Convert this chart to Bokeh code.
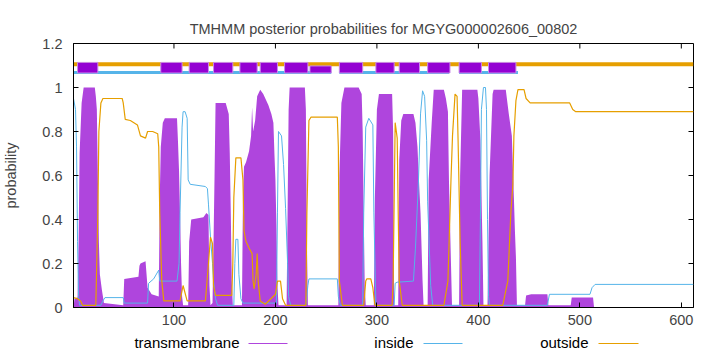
from bokeh.plotting import figure
from bokeh.models import Range1d, FixedTicker, NumeralTickFormatter
from bokeh.layouts import column
from bokeh.embed import file_html
from bokeh.resources import INLINE
from bokeh.core.properties import value

FONT = "Liberation Sans"
SEQ_LEN = 612
TITLE = "TMHMM posterior probabilities for MGYG000002606_00802"

# transmembrane posterior (residue, probability)
tm_pos = [1, 2, 5, 6, 7, 9, 11, 22, 23, 24, 25, 26, 27, 29, 31, 50, 51, 65, 66, 67, 72, 74, 78, 85,
          86, 87, 89, 91, 103, 104, 105, 106, 107, 108, 109, 114, 115, 117, 129, 132, 134, 135, 136,
          138, 139, 140, 141, 151, 154, 155, 156, 157, 158, 167, 168, 169, 171, 174, 176, 177, 178,
          180, 182, 185, 188, 193, 196, 198, 199, 200, 201, 202, 203, 211, 212, 213, 214, 229, 230,
          231, 232, 262, 263, 265, 268, 282, 285, 286, 287, 288, 289, 297, 298, 300, 302, 315, 316,
          317, 321, 322, 324, 326, 336, 338, 340, 341, 343, 345, 346, 350, 351, 354, 356, 366, 368,
          370, 371, 373, 374, 381, 382, 384, 399, 400, 402, 404, 405, 409, 411, 414, 415, 427, 430,
          433, 435, 436, 437, 438, 446, 447, 452, 468, 469, 491, 492, 513, 514, 612]
tm_prob = [0.0, 0.04, 0.045, 0.3, 0.70, 0.93, 1.0, 1.0, 0.96, 0.9, 0.6, 0.3, 0.15, 0.08, 0.02, 0.01,
           0.13, 0.14, 0.19, 0.20, 0.21, 0.09, 0.06, 0.05,
           0.5, 0.73, 0.84, 0.86, 0.86, 0.75, 0.62, 0.43, 0.2, 0.05, 0.01, 0.01, 0.3, 0.40, 0.41, 0.43,
           0.42, 0.1, 0.01,
           0.02, 0.3, 0.6, 0.93, 0.93, 0.88, 0.7, 0.43, 0.12, 0.01, 0.01, 0.5, 0.64, 0.66, 0.71, 0.78,
           0.91, 0.80,
           0.85, 0.96, 0.99, 0.97, 0.92, 0.88, 0.84, 0.7, 0.58, 0.37, 0.1, 0.01, 0.01, 0.45, 0.9, 1.0,
           1.0, 0.9,
           0.3, 0.01, 0.01, 0.6, 0.93, 1.0, 1.0, 0.97, 0.8, 0.43, 0.1, 0.01, 0.01, 0.5, 0.9, 0.97, 0.97,
           0.8,
           0.01, 0.01, 0.67, 0.85, 0.88, 0.88, 0.84, 0.73, 0.62, 0.43, 0.12, 0.01, 0.01, 0.58, 0.84,
           0.99, 0.99, 0.95,
           0.89, 0.58, 0.2, 0.01, 0.01, 0.6, 0.99, 0.99, 0.95, 0.76, 0.3, 0.01, 0.01, 0.6, 0.97, 0.99,
           0.99, 0.88,
           0.78, 0.5, 0.35, 0.23, 0.01, 0.01, 0.055, 0.06, 0.06, 0.01, 0.01, 0.045, 0.045, 0.0, 0.0]

# inside posterior
in_pos = [1, 3, 4, 5, 6, 7, 28, 30, 32, 50, 51, 74, 75, 80, 85, 86, 87, 103, 105, 106, 108, 109,
          111, 113, 114, 116, 131, 133, 134, 136, 138, 139, 141, 143, 159, 160, 161, 163, 164, 166,
          168, 201, 202, 203, 206, 208, 210, 212, 213, 215, 230, 232, 233, 261, 262, 264, 286, 287,
          289, 292, 296, 297, 299, 317, 318, 320, 336, 338, 341, 343, 345, 347, 349, 350, 353, 355,
          401, 402, 403, 405, 407, 408, 409, 410, 411, 468, 470, 510, 512, 515, 612]
in_prob = [0.95, 0.9, 0.73, 0.3, 0.05, 0.01, 0.01, 0.03, 0.045, 0.045, 0.02, 0.02, 0.11, 0.13, 0.17,
           0.12, 0.12, 0.12, 0.2, 0.43, 0.82, 0.89,
           0.89, 0.86, 0.58, 0.56, 0.55, 0.54, 0.47, 0.32, 0.2, 0.12, 0.04, 0.01, 0.01, 0.2, 0.31,
           0.31, 0.15, 0.04,
           0.02, 0.02, 0.43, 0.80, 0.78, 0.65, 0.45, 0.2, 0.05, 0.01, 0.01, 0.1, 0.13, 0.13, 0.05,
           0.01, 0.01, 0.43,
           0.82, 0.86, 0.83, 0.43, 0.01, 0.01, 0.11, 0.115, 0.12, 0.27, 0.58, 0.88, 0.985, 0.96,
           0.76, 0.48, 0.1, 0.01,
           0.01, 0.4, 0.9, 1.0, 1.0, 0.9, 0.4, 0.05, 0.01, 0.01, 0.06, 0.06, 0.09, 0.105, 0.105]

# outside posterior
out_pos = [1, 5, 8, 10, 23, 25, 26, 28, 30, 49, 50, 52, 57, 64, 67, 72, 74, 79, 84, 85, 86, 88, 90,
           106, 109, 113, 131, 134, 136, 138, 139, 141, 157, 158, 159, 161, 166, 168, 169, 171, 174,
           177, 178, 179, 181, 182, 183, 185, 190, 200, 202, 205, 207, 210, 230, 231, 233, 235, 261,
           262, 263, 266, 287, 289, 290, 294, 296, 298, 315, 316, 318, 320, 321, 322, 325, 366, 370,
           373, 374.5, 377, 379, 380, 382, 384, 424, 429, 432, 434, 435, 437, 439, 445, 447, 451,
           490, 493, 496, 612]
out_prob = [0.045, 0.04, 0.03, 0.01, 0.01, 0.43, 0.80, 0.93, 0.95, 0.95, 0.93, 0.855, 0.85, 0.83,
            0.78, 0.77, 0.80, 0.80, 0.79, 0.73, 0.43, 0.12, 0.03,
            0.03, 0.10, 0.03, 0.03, 0.2, 0.32, 0.29, 0.1, 0.055, 0.055, 0.2, 0.5, 0.68, 0.68, 0.58,
            0.35, 0.30, 0.27,
            0.245, 0.12, 0.085, 0.15, 0.245, 0.12, 0.03, 0.015, 0.06, 0.12, 0.12, 0.04, 0.01, 0.01,
            0.43, 0.85, 0.865, 0.865,
            0.73, 0.12, 0.01, 0.01, 0.12, 0.13, 0.13, 0.09, 0.01, 0.01, 0.12, 0.84, 0.77, 0.43, 0.12,
            0.01, 0.01, 0.12,
            0.58, 0.78, 0.97, 0.96, 0.76, 0.3, 0.01, 0.01, 0.12, 0.43, 0.56, 0.78, 0.94, 0.99, 0.99,
            0.95, 0.93,
            0.93, 0.90, 0.89, 0.89]

# predicted topology track
helix_start = [5, 87, 115, 139, 165, 185, 209, 234, 263, 299, 322, 350, 381, 410]
helix_end = [25, 108, 134, 158, 182, 202, 232, 255, 286, 317, 342, 372, 403, 437]
helix_top = [1.114, 1.114, 1.114, 1.114, 1.114, 1.114, 1.114, 1.098, 1.114, 1.114, 1.114, 1.114,
             1.114, 1.114]
inside_start = [1, 263, 381]
inside_end = [255, 371, 439]
outside_start = [1]
outside_end = [SEQ_LEN]

x_ticks = [100, 200, 300, 400, 500, 600]
y_ticks = [0, 0.2, 0.4, 0.6, 0.8, 1, 1.2]

legend_labels = ["transmembrane", "inside", "outside"]
C_TM = "#AF45DD"
C_HELIX = "#9400D3"
C_IN = "#56B4E9"
C_OUT = "#E69F00"
FS = "14.5px"

X0, X1, Y0, Y1 = 1, SEQ_LEN, 0, 1.2
FRAME_W, FRAME_H = 620, 264

p = figure(width=720, height=328, x_range=Range1d(X0, X1), y_range=Range1d(Y0, Y1),
           output_backend="svg", toolbar_location=None,
           min_border_left=73, min_border_right=27, min_border_top=43, min_border_bottom=21)
p.title.text = TITLE
p.title.align = "center"
p.title.text_font = FONT
p.title.text_font_size = FS
p.title.text_font_style = "normal"
p.title.standoff = 13
p.xgrid.visible = False
p.ygrid.visible = False
p.outline_line_color = "black"
p.outline_line_width = 1

for ax in p.xaxis:
    ax.ticker = FixedTicker(ticks=x_ticks)
    ax.major_label_standoff = 7
for ax in p.yaxis:
    ax.ticker = FixedTicker(ticks=y_ticks)
    ax.formatter = NumeralTickFormatter(format="0.[0]")
    ax.axis_label = "probability"
    ax.axis_label_standoff = 20
    ax.axis_label_text_font_style = "normal"
    ax.axis_label_text_font_size = FS
    ax.axis_label_text_font = FONT
    ax.major_label_standoff = 11
for ax in list(p.xaxis) + list(p.yaxis):
    ax.major_tick_in = 5
    ax.major_tick_out = 0
    ax.minor_tick_in = 0
    ax.minor_tick_out = 0
    ax.major_label_text_font = FONT
    ax.major_label_text_font_size = FS
    ax.axis_line_color = "black"

# mirrored inward ticks on the top and right borders (5 px long)
tick_dx = 5 * (X1 - X0) / FRAME_W
tick_dy = 5 * (Y1 - Y0) / FRAME_H
p.segment(x0=x_ticks, x1=x_ticks, y0=[Y1] * len(x_ticks), y1=[Y1 - tick_dy] * len(x_ticks),
          line_color="black", line_width=1)
p.segment(x0=[X1] * len(y_ticks), x1=[X1 - tick_dx] * len(y_ticks), y0=y_ticks, y1=y_ticks,
          line_color="black", line_width=1)

p.varea(x=tm_pos, y1=[0] * len(tm_pos), y2=tm_prob, fill_color=C_TM)
p.line(in_pos, in_prob, line_color=C_IN, line_width=1)
p.line(out_pos, out_prob, line_color=C_OUT, line_width=1.2)

p.segment(x0=inside_start, x1=inside_end, y0=[1.068] * len(inside_start),
          y1=[1.068] * len(inside_start), line_color=C_IN, line_width=3)
p.segment(x0=outside_start, x1=outside_end, y0=[1.106], y1=[1.106], line_color=C_OUT, line_width=4)
p.quad(left=helix_start, right=helix_end, bottom=[1.066] * len(helix_start), top=helix_top,
       fill_color=C_HELIX, line_color="#C88BE8", line_width=1)

# key row below the chart (frame aligned with the main frame: 73..693 px)
lg = figure(width=720, height=24, x_range=Range1d(73, 693), y_range=Range1d(24, 0),
            output_backend="svg", toolbar_location=None, min_border=0,
            x_axis_type=None, y_axis_type=None, outline_line_color=None)
lg.xgrid.visible = False
lg.ygrid.visible = False
lg.text(x=[239, 413, 588], y=[14, 14, 14], text=legend_labels, text_align="right",
        text_baseline="middle", text_font=value(FONT), text_font_size="15px", text_color="black")
lg.segment(x0=[248, 423, 598], x1=[287, 462, 638], y0=[15, 15, 15], y1=[15, 15, 15],
           line_color=[C_TM, C_IN, C_OUT], line_width=1)

layout = column(p, lg, spacing=0)
open("out.html", "w").write(file_html(layout, INLINE))
